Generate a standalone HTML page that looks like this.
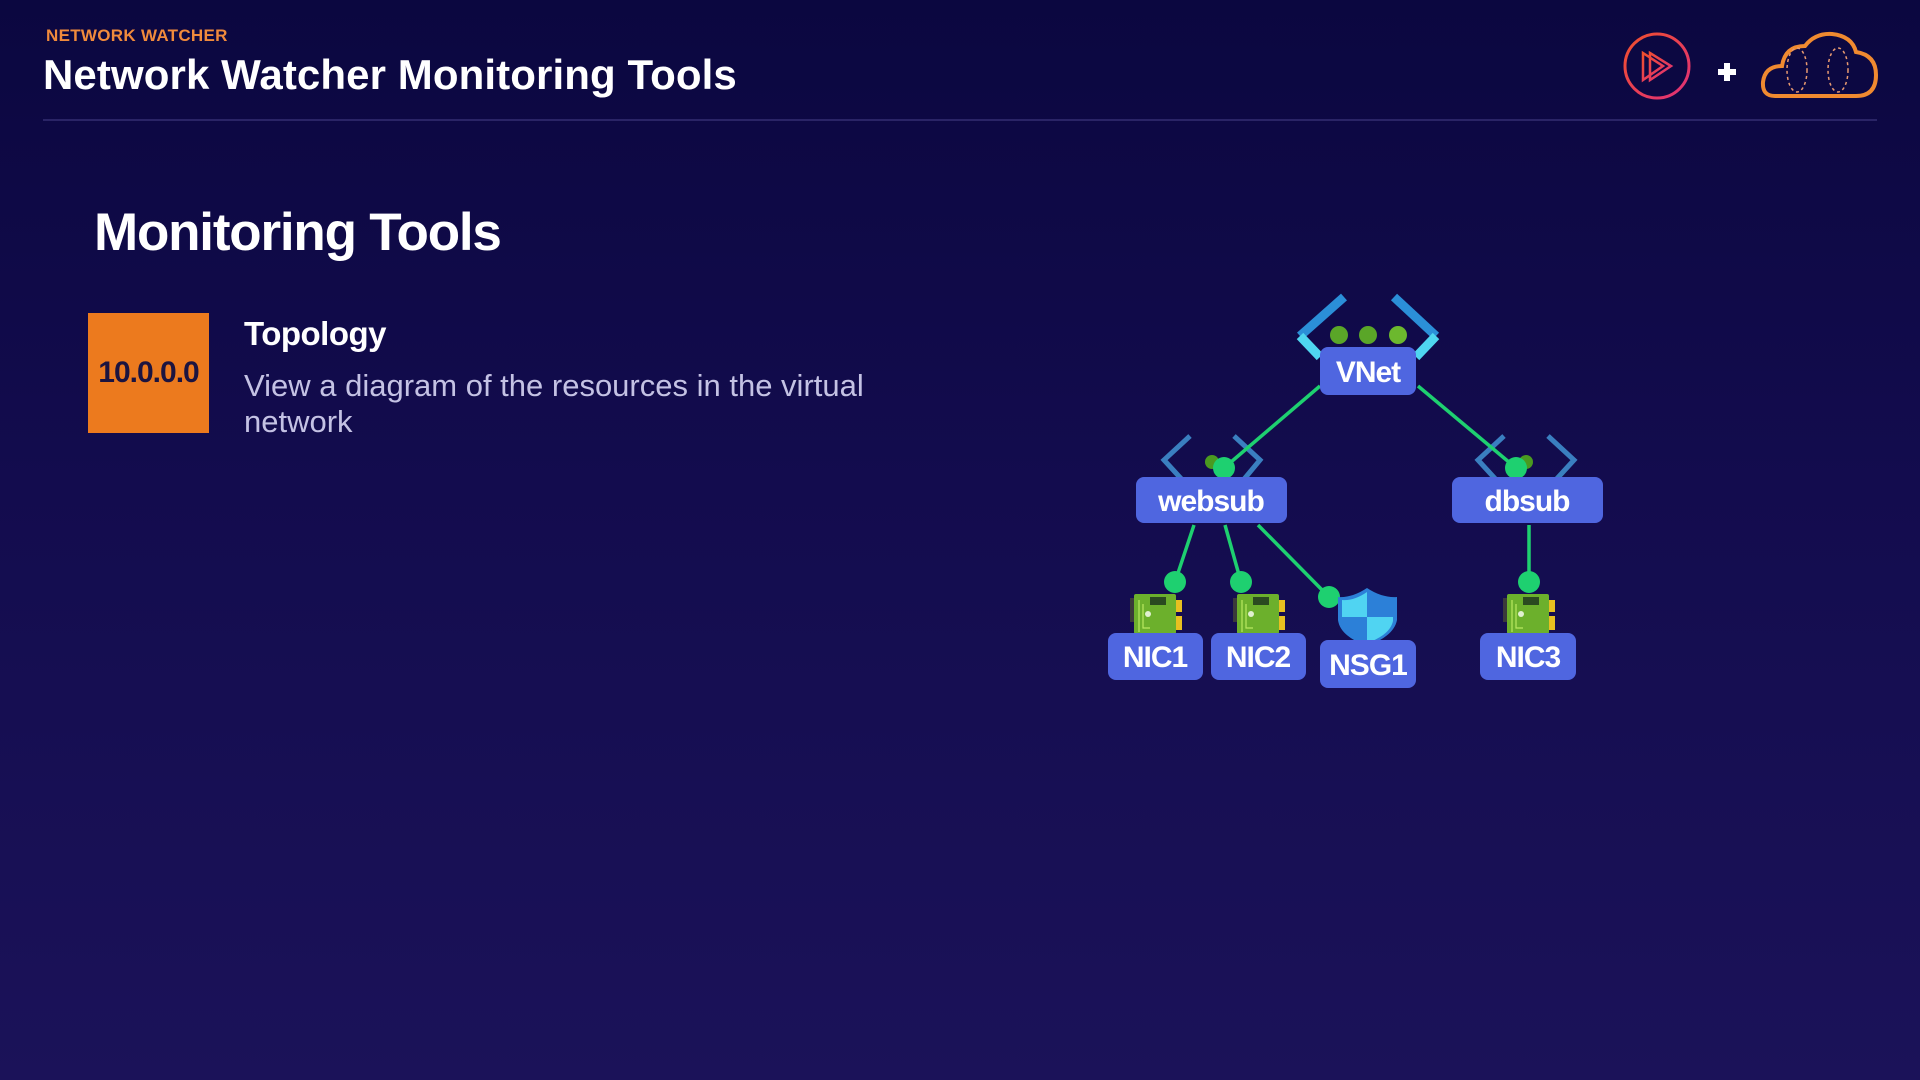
<!DOCTYPE html>
<html><head><meta charset="utf-8"><style>
html,body{margin:0;padding:0}
body{width:1920px;height:1080px;overflow:hidden;position:relative;background:linear-gradient(180deg,#0b0740 0%,#130c4e 45%,#1b1259 100%);font-family:"Liberation Sans",sans-serif;color:#fff}
.t{position:absolute;white-space:nowrap;font-weight:bold}
</style></head><body>
<div class="t" style="left:46px;top:26px;font-size:17px;color:#f08a3c;letter-spacing:0.3px">NETWORK WATCHER</div>
<div class="t" style="left:43px;top:51px;font-size:42px;letter-spacing:0.1px">Network Watcher Monitoring Tools</div>
<div style="position:absolute;left:43px;top:119px;width:1834px;height:2px;background:#2a2466"></div>
<div class="t" style="left:94px;top:202px;font-size:53px;letter-spacing:-1.2px">Monitoring Tools</div>
<div style="position:absolute;left:88px;top:313px;width:121px;height:120px;background:#ec7a1e;display:flex;align-items:center;justify-content:center;color:#1c1440;font-weight:bold;font-size:30px;letter-spacing:-1px">10.0.0.0</div>
<div class="t" style="left:244px;top:315px;font-size:33px;letter-spacing:-0.5px">Topology</div>
<div style="position:absolute;left:244px;top:368px;font-size:31px;color:#c4c2e4;line-height:36px;width:720px">View a diagram of the resources in the virtual network</div>

<svg style="position:absolute;left:0;top:0" width="1920" height="1080">
 <defs><linearGradient id="pg" x1="0" y1="0" x2="1" y2="1"><stop offset="0" stop-color="#f0502c"/><stop offset="1" stop-color="#e0307a"/></linearGradient></defs>
 <circle cx="1657" cy="66" r="32" fill="none" stroke="url(#pg)" stroke-width="3"/>
 <path d="M1643 53 L1643 80 L1663 66 Z M1650 53 L1650 80 L1671 66 Z" fill="none" stroke="url(#pg)" stroke-width="2.5"/>
 <path d="M1727 63v18M1718 72h18" stroke="#fff" stroke-width="6"/>
 <path d="M1775 96 Q1762 96 1763 82 Q1765 66 1782 66 Q1785 46 1805 46 Q1815 33 1832 34 Q1852 36 1856 52 Q1876 55 1876 75 Q1876 96 1856 96 Z" fill="none" stroke="#f08a30" stroke-width="4"/>
 <ellipse cx="1797" cy="70" rx="10" ry="22" fill="none" stroke="#e89a70" stroke-width="1.5" stroke-dasharray="3 3"/>
 <ellipse cx="1838" cy="70" rx="10" ry="22" fill="none" stroke="#e89a70" stroke-width="1.5" stroke-dasharray="3 3"/>

 <path d="M1344 297 L1300 336" stroke="#2b8fd8" stroke-width="9" fill="none"/>
 <path d="M1300 336 L1320 357" stroke="#4fd6f0" stroke-width="9" fill="none"/>
 <path d="M1394 297 L1436 336" stroke="#2b8fd8" stroke-width="9" fill="none"/>
 <path d="M1436 336 L1416 357" stroke="#4fd6f0" stroke-width="9" fill="none"/>
 <circle cx="1339" cy="335" r="9" fill="#5aa628"/><circle cx="1368" cy="335" r="9" fill="#5aa628"/><circle cx="1398" cy="335" r="9" fill="#6cb82e"/>
 <path d="M1190 436 L1164 460 L1186 484 M1234 436 L1260 460 L1240 484" stroke="#3a7fc0" stroke-width="5" fill="none"/>
 <path d="M1504 436 L1478 460 L1500 484 M1548 436 L1574 460 L1552 484" stroke="#3a7fc0" stroke-width="5" fill="none"/>
 <circle cx="1212" cy="462" r="7" fill="#4a9a20"/><circle cx="1526" cy="462" r="7" fill="#4a9a20"/>
 <g stroke="#1ed070" stroke-width="3.5">
  <line x1="1320" y1="386" x2="1224" y2="468"/>
  <line x1="1418" y1="386" x2="1516" y2="468"/>
  <line x1="1194" y1="525" x2="1175" y2="582"/>
  <line x1="1225" y1="525" x2="1241" y2="582"/>
  <line x1="1258" y1="525" x2="1329" y2="597"/>
  <line x1="1529" y1="525" x2="1529" y2="582"/>
 </g>
 <g fill="#1ed070">
  <circle cx="1224" cy="468" r="11"/><circle cx="1516" cy="468" r="11"/>
  <circle cx="1175" cy="582" r="11"/><circle cx="1241" cy="582" r="11"/>
  <circle cx="1329" cy="597" r="11"/><circle cx="1529" cy="582" r="11"/>
 </g>
 <g id="nic">
  <rect x="1130" y="598" width="4" height="24" fill="#3a3a3a"/>
  <rect x="1134" y="594" width="42" height="40" rx="2" fill="#6cb02c"/>
  <rect x="1176" y="600" width="6" height="12" fill="#e8c020"/><rect x="1176" y="616" width="6" height="14" fill="#e8c020"/>
  <rect x="1150" y="597" width="16" height="8" fill="#2a4a20"/>
  <path d="M1139 600 V632 M1143 604 V628 H1150" stroke="#b8e860" stroke-width="1.2" fill="none"/>
  <circle cx="1148" cy="614" r="3" fill="#e0f0d0"/>
 </g>
 <use href="#nic" x="103"/>
 <use href="#nic" x="373"/>
 <path d="M1367 588 Q1352 598 1338 597 L1338 620 Q1340 636 1367 646 Q1394 636 1397 620 L1397 597 Q1382 598 1367 588 Z" fill="#2c80d8"/>
 <path d="M1367 592 Q1354 601 1342 600 L1342 617 L1367 617 Z" fill="#50d4f2"/>
 <path d="M1367 617 L1393 617 L1393 621 Q1390 635 1367 643 Z" fill="#50d4f2"/>
 <g fill="#4f66e0">
  <rect x="1320" y="347" width="96" height="48" rx="8"/>
  <rect x="1136" y="477" width="151" height="46" rx="8"/>
  <rect x="1452" y="477" width="151" height="46" rx="8"/>
  <rect x="1108" y="633" width="95" height="47" rx="8"/>
  <rect x="1211" y="633" width="95" height="47" rx="8"/>
  <rect x="1320" y="640" width="96" height="48" rx="8"/>
  <rect x="1480" y="633" width="96" height="47" rx="8"/>
 </g>
 <g fill="#fff" font-family="Liberation Sans, sans-serif" font-weight="bold" font-size="30" text-anchor="middle" letter-spacing="-1">
  <text x="1368" y="382">VNet</text>
  <text x="1211" y="511">websub</text>
  <text x="1527" y="511">dbsub</text>
  <text x="1155" y="667">NIC1</text>
  <text x="1258" y="667">NIC2</text>
  <text x="1368" y="675">NSG1</text>
  <text x="1528" y="667">NIC3</text>
 </g>
</svg>
</body></html>
